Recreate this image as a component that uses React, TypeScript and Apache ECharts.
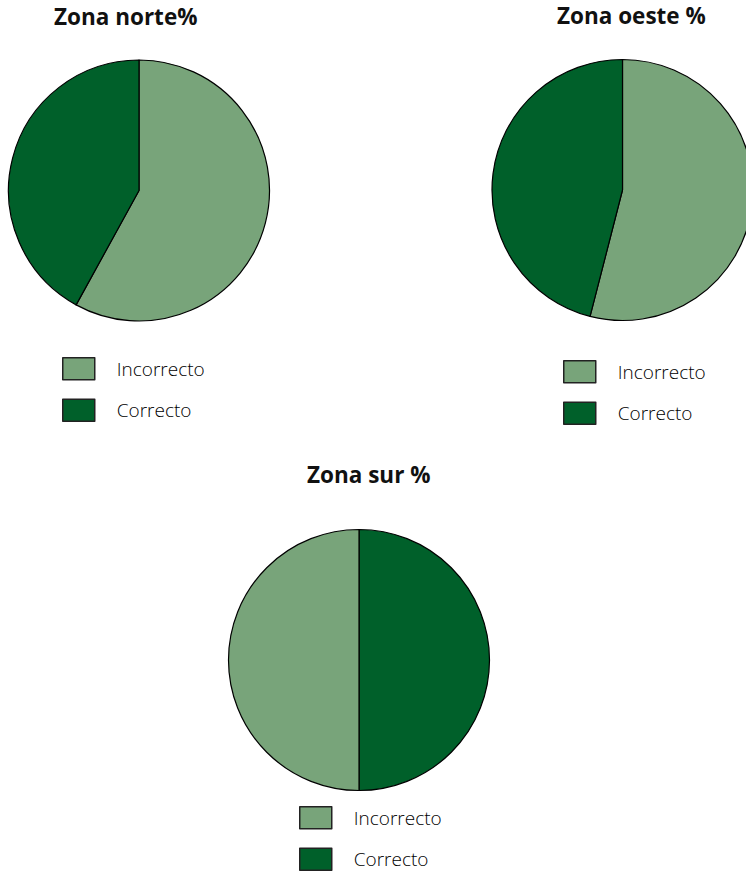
import React, { useEffect, useRef } from "react";
import * as echarts from "echarts";

const categories = ["Incorrecto", "Correcto"];
const norteValues = [58, 42];
const oesteValues = [54, 46];
const surValues = [50, 50];
const titles = ["Zona norte%", "Zona oeste %", "Zona sur %"];

const LIGHT = "#78a47a";
const DARK = "#00602a";
const colorOf: Record<string, string> = { Incorrecto: LIGHT, Correcto: DARK };

function pieData(values: number[], order: number[]) {
  return order.map((i) => ({
    name: categories[i],
    value: values[i],
    itemStyle: { color: colorOf[categories[i]] },
  }));
}

export default function App() {
  const ref = useRef<HTMLDivElement>(null);
  useEffect(() => {
    if (!ref.current) return;
    const chart = echarts.init(ref.current, undefined, { renderer: "svg" });
    const pieBase = {
      type: "pie" as const,
      radius: 130.5,
      startAngle: 90,
      clockwise: true,
      silent: true,
      label: { show: false },
      labelLine: { show: false },
      emphasis: { disabled: true },
      itemStyle: { borderColor: "#000", borderWidth: 1.2 },
    };
    const titleStyle = {
      fontFamily: "Open Sans",
      fontWeight: "bold" as const,
      fontSize: 22.5,
      color: "#111",
    };
    const legendBase = {
      orient: "vertical" as const,
      icon: "rect",
      itemWidth: 32,
      itemHeight: 22,
      itemGap: 18,
      padding: 0,
      height: 70,
      selectedMode: false,
      data: categories,
      itemStyle: { borderColor: "#222", borderWidth: 1.5 },
      textStyle: {
        fontFamily: "Open Sans",
        fontWeight: 300 as any,
        fontSize: 19,
        lineHeight: 20,
        color: "#000",
        padding: [0, 0, 0, 17],
      },
    };
    chart.setOption({
      animation: false,
      title: [
        { text: titles[0], left: 54, top: 5, padding: 0, textStyle: titleStyle },
        { text: titles[1], left: 557, top: 4, padding: 0, textStyle: titleStyle },
        { text: titles[2], left: 307, top: 463, padding: 0, textStyle: titleStyle },
      ],
      legend: [
        { ...legendBase, left: 62, top: 357 },
        { ...legendBase, left: 563, top: 360 },
        { ...legendBase, left: 299, top: 806 },
      ],
      series: [
        { ...pieBase, name: "norte", center: [139, 190.5], data: pieData(norteValues, [0, 1]) },
        { ...pieBase, name: "oeste", center: [622.5, 190], data: pieData(oesteValues, [0, 1]) },
        { ...pieBase, name: "sur", center: [359, 660], data: pieData(surValues, [1, 0]) },
      ],
    });
    return () => chart.dispose();
  }, []);
  return (
    <div
      ref={ref}
      style={{ position: "fixed", left: 0, top: 0, width: 746, height: 874, background: "#fff" }}
    />
  );
}
